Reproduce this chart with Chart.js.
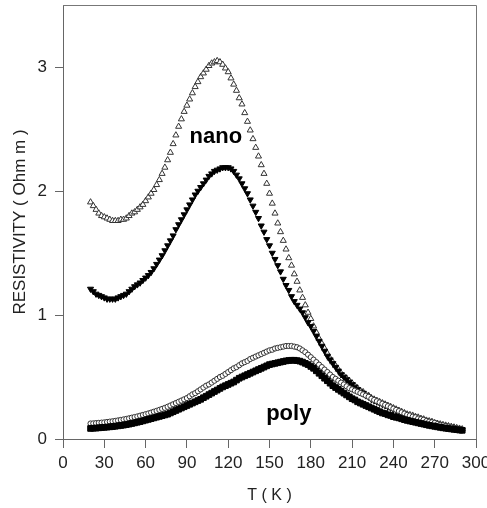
<!DOCTYPE html>
<html>
<head>
<meta charset="utf-8">
<script src="https://cdn.jsdelivr.net/npm/chart.js@4.4.1/dist/chart.umd.min.js"></script>
<style>
    html, body { margin: 0; padding: 0; background: #fff; }
</style>
</head>
<body>
<canvas id="myChart" width="487" height="508"></canvas>
<script>
/** 温度 (K) */
var temps = [
    20, 22, 24, 26, 28, 30, 32, 34, 36, 38,
    40, 42, 44, 46, 48, 50, 52, 54, 56, 58,
    60, 62, 64, 66, 68, 70, 72, 74, 76, 78,
    80, 82, 84, 86, 88, 90, 92, 94, 96, 98,
    100, 102, 104, 106, 108, 110, 112, 114, 116, 118,
    120, 122, 124, 126, 128, 130, 132, 134, 136, 138,
    140, 142, 144, 146, 148, 150, 152, 154, 156, 158,
    160, 162, 164, 166, 168, 170, 172, 174, 176, 178,
    180, 182, 184, 186, 188, 190, 192, 194, 196, 198,
    200, 202, 204, 206, 208, 210, 212, 214, 216, 218,
    220, 222, 224, 226, 228, 230, 232, 234, 236, 238,
    240, 242, 244, 246, 248, 250, 252, 254, 256, 258,
    260, 262, 264, 266, 268, 270, 272, 274, 276, 278,
    280, 282, 284, 286, 288, 290
]

/** nano, open triangles */
var nanoOpen = [
    1.91, 1.88, 1.85, 1.82, 1.80, 1.79, 1.78, 1.77, 1.76, 1.76,
    1.76, 1.77, 1.77, 1.78, 1.80, 1.82, 1.83, 1.85, 1.87, 1.89,
    1.92, 1.95, 1.98, 2.01, 2.05, 2.09, 2.14, 2.19, 2.25, 2.31,
    2.38, 2.45, 2.52, 2.58, 2.64, 2.69, 2.74, 2.79, 2.84, 2.88,
    2.92, 2.95, 2.98, 3.01, 3.03, 3.04, 3.05, 3.04, 3.02, 2.99,
    2.96, 2.91, 2.86, 2.81, 2.75, 2.70, 2.63, 2.56, 2.49, 2.42,
    2.35, 2.28, 2.21, 2.14, 2.06, 1.98, 1.90, 1.82, 1.74, 1.67,
    1.60, 1.53, 1.46, 1.40, 1.33, 1.27, 1.20, 1.14, 1.08, 1.02,
    0.97, 0.91, 0.86, 0.81, 0.77, 0.73, 0.69, 0.65, 0.62, 0.59,
    0.56, 0.53, 0.51, 0.49, 0.47, 0.45, 0.43, 0.41, 0.39, 0.38,
    0.36, 0.35, 0.33, 0.32, 0.31, 0.30, 0.29, 0.28, 0.27, 0.26,
    0.25, 0.24, 0.23, 0.22, 0.21, 0.20, 0.195, 0.19, 0.18, 0.175,
    0.165, 0.16, 0.15, 0.145, 0.14, 0.13, 0.125, 0.12, 0.115, 0.11,
    0.105, 0.10, 0.095, 0.09, 0.085, 0.08
]

/** nano, filled triangles */
var nanoFilled = [
    1.21, 1.19, 1.17, 1.16, 1.15, 1.14, 1.13, 1.13, 1.13, 1.13,
    1.14, 1.15, 1.16, 1.17, 1.19, 1.21, 1.23, 1.245, 1.26, 1.28,
    1.30, 1.32, 1.345, 1.375, 1.41, 1.445, 1.48, 1.52, 1.56, 1.60,
    1.64, 1.69, 1.73, 1.77, 1.81, 1.85, 1.89, 1.93, 1.97, 2.00,
    2.03, 2.06, 2.09, 2.12, 2.14, 2.16, 2.17, 2.18, 2.19, 2.19,
    2.19, 2.18, 2.16, 2.13, 2.10, 2.06, 2.02, 1.98, 1.93, 1.88,
    1.83, 1.78, 1.72, 1.67, 1.61, 1.56, 1.50, 1.45, 1.40, 1.35,
    1.29, 1.24, 1.20, 1.15, 1.11, 1.08, 1.05, 1.02, 0.98, 0.94,
    0.91, 0.87, 0.83, 0.79, 0.75, 0.71, 0.67, 0.64, 0.61, 0.58,
    0.55, 0.52, 0.50, 0.48, 0.46, 0.44, 0.42, 0.40, 0.38, 0.37,
    0.35, 0.34, 0.32, 0.31, 0.30, 0.29, 0.28, 0.27, 0.26, 0.25,
    0.24, 0.23, 0.22, 0.21, 0.20, 0.19, 0.185, 0.18, 0.17, 0.165,
    0.16, 0.15, 0.145, 0.14, 0.135, 0.13, 0.12, 0.115, 0.11, 0.105,
    0.10, 0.095, 0.09, 0.085, 0.08, 0.075
]

/** poly, open circles */
var polyOpen = [
    0.125, 0.126, 0.128, 0.13, 0.132, 0.134, 0.137, 0.14, 0.143, 0.146,
    0.15, 0.154, 0.158, 0.162, 0.167, 0.172, 0.177, 0.182, 0.188, 0.194,
    0.20, 0.206, 0.213, 0.22, 0.227, 0.235, 0.243, 0.251, 0.26, 0.27,
    0.28, 0.29, 0.30, 0.31, 0.32, 0.33, 0.345, 0.36, 0.37, 0.385,
    0.40, 0.415, 0.43, 0.44, 0.455, 0.47, 0.485, 0.50, 0.51, 0.525,
    0.54, 0.555, 0.57, 0.58, 0.595, 0.61, 0.62, 0.63, 0.645, 0.655,
    0.665, 0.675, 0.685, 0.695, 0.705, 0.715, 0.72, 0.73, 0.735, 0.74,
    0.745, 0.75, 0.75, 0.75, 0.745, 0.74, 0.73, 0.715, 0.70, 0.68,
    0.66, 0.64, 0.62, 0.60, 0.58, 0.56, 0.54, 0.52, 0.50, 0.485,
    0.47, 0.455, 0.44, 0.425, 0.41, 0.40, 0.39, 0.38, 0.37, 0.36,
    0.35, 0.34, 0.325, 0.315, 0.305, 0.295, 0.285, 0.275, 0.265, 0.255,
    0.245, 0.235, 0.225, 0.215, 0.205, 0.195, 0.19, 0.18, 0.175, 0.165,
    0.16, 0.155, 0.145, 0.14, 0.135, 0.13, 0.12, 0.115, 0.11, 0.105,
    0.10, 0.095, 0.09, 0.085, 0.08, 0.075
]

/** poly, filled squares */
var polyFilled = [
    0.085, 0.087, 0.088, 0.09, 0.092, 0.094, 0.096, 0.098, 0.10, 0.103,
    0.106, 0.109, 0.112, 0.116, 0.12, 0.125, 0.13, 0.135, 0.14, 0.146,
    0.152, 0.158, 0.164, 0.17, 0.176, 0.182, 0.188, 0.194, 0.20, 0.21,
    0.22, 0.23, 0.24, 0.25, 0.26, 0.27, 0.28, 0.29, 0.30, 0.31,
    0.32, 0.333, 0.345, 0.358, 0.37, 0.383, 0.395, 0.408, 0.42, 0.43,
    0.44, 0.45, 0.46, 0.475, 0.49, 0.50, 0.51, 0.52, 0.53, 0.54,
    0.55, 0.56, 0.57, 0.58, 0.59, 0.60, 0.605, 0.61, 0.615, 0.62,
    0.625, 0.63, 0.633, 0.635, 0.635, 0.632, 0.628, 0.62, 0.61, 0.60,
    0.585, 0.57, 0.55, 0.53, 0.51, 0.49, 0.47, 0.45, 0.43, 0.415,
    0.40, 0.385, 0.37, 0.355, 0.34, 0.325, 0.315, 0.30, 0.29, 0.28,
    0.27, 0.26, 0.25, 0.24, 0.23, 0.22, 0.21, 0.205, 0.195, 0.19,
    0.18, 0.175, 0.17, 0.163, 0.156, 0.15, 0.145, 0.14, 0.135, 0.13,
    0.125, 0.12, 0.115, 0.11, 0.106, 0.102, 0.098, 0.094, 0.09, 0.087,
    0.084, 0.081, 0.078, 0.075, 0.072, 0.07
]

var xTicks = [0, 30, 60, 90, 120, 150, 180, 210, 240, 270, 300]
var yTicks = [0, 1, 2, 3]

function toPoints(values) {
    return values.map(function (v, i) { return { x: temps[i], y: v } })
}

/** 上边和右边的框线 */
var framePlugin = {
    id: 'frame',
    beforeDatasetsDraw: function (chart) {
        var a = chart.chartArea
        var ctx = chart.ctx
        ctx.save()
        ctx.strokeStyle = '#777'
        ctx.lineWidth = 1
        ctx.beginPath()
        ctx.moveTo(a.left, a.top + 0.5)
        ctx.lineTo(a.right + 0.5, a.top + 0.5)
        ctx.lineTo(a.right + 0.5, a.bottom)
        ctx.stroke()
        ctx.restore()
    }
}

/** nano / poly 文字 */
var namePlugin = {
    id: 'names',
    afterDatasetsDraw: function (chart) {
        var xs = chart.scales.x
        var ys = chart.scales.y
        var ctx = chart.ctx
        ctx.save()
        ctx.fillStyle = '#000'
        ctx.font = 'bold 22px "Liberation Sans", Arial, sans-serif'
        ctx.textAlign = 'center'
        ctx.textBaseline = 'alphabetic'
        ctx.fillText('nano', xs.getPixelForValue(111), ys.getPixelForValue(2.39))
        ctx.fillText('poly', xs.getPixelForValue(164), ys.getPixelForValue(0.153))
        ctx.restore()
    }
}

Chart.defaults.font.family = '"Liberation Sans", Arial, sans-serif'
Chart.defaults.color = '#222'

var ctx = document.getElementById('myChart').getContext('2d')
var myChart = new Chart(ctx, {
    type: 'scatter',
    data: {
        datasets: [
            {
                label: 'poly filled',
                data: toPoints(polyFilled),
                pointStyle: 'rect',
                pointRadius: 4,
                pointBackgroundColor: '#000',
                pointBorderColor: '#000',
                pointBorderWidth: 1
            },
            {
                label: 'poly open',
                data: toPoints(polyOpen),
                pointStyle: 'circle',
                pointRadius: 2.6,
                pointBackgroundColor: '#fff',
                pointBorderColor: '#333',
                pointBorderWidth: 1
            },
            {
                label: 'nano filled',
                data: toPoints(nanoFilled),
                pointStyle: 'triangle',
                rotation: 180,
                pointRadius: 3.5,
                pointBackgroundColor: '#000',
                pointBorderColor: '#000',
                pointBorderWidth: 1
            },
            {
                label: 'nano open',
                data: toPoints(nanoOpen),
                pointStyle: 'triangle',
                pointRadius: 3.5,
                pointBackgroundColor: '#fff',
                pointBorderColor: '#333',
                pointBorderWidth: 1
            }
        ]
    },
    options: {
        responsive: false,
        animation: false,
        layout: { padding: { top: 5, right: 11, left: 0, bottom: 0 } },
        plugins: {
            legend: { display: false },
            tooltip: { enabled: false }
        },
        scales: {
            x: {
                type: 'linear',
                min: 0,
                max: 300,
                afterBuildTicks: function (s) {
                    s.ticks = xTicks.map(function (v) { return { value: v } })
                },
                afterFit: function (s) {
                    s.height = 69
                    s.paddingLeft = 0
                    s.paddingRight = 0
                },
                border: { display: true, color: '#666', width: 1 },
                grid: { drawOnChartArea: false, drawTicks: true, tickLength: 9, color: '#666' },
                ticks: { padding: 5, maxRotation: 0, autoSkip: false, font: { size: 17 }, color: '#222' },
                title: {
                    display: true,
                    text: 'T ( K )',
                    font: { size: 16 },
                    color: '#222',
                    padding: { top: 0, bottom: 3 }
                }
            },
            y: {
                type: 'linear',
                min: 0,
                max: 3.5,
                afterBuildTicks: function (s) {
                    s.ticks = yTicks.map(function (v) { return { value: v } })
                },
                afterFit: function (s) {
                    s.width = 63
                    s.paddingTop = 0
                    s.paddingBottom = 0
                },
                border: { display: true, color: '#666', width: 1 },
                grid: { drawOnChartArea: false, drawTicks: true, tickLength: 8, color: '#666' },
                ticks: { padding: 8, font: { size: 17 }, color: '#222' },
                title: {
                    display: true,
                    text: 'RESISTIVITY ( Ohm m )',
                    font: { size: 17 },
                    color: '#222',
                    padding: { top: 10, bottom: 0 }
                }
            }
        }
    },
    plugins: [framePlugin, namePlugin]
})
</script>
</body>
</html>
